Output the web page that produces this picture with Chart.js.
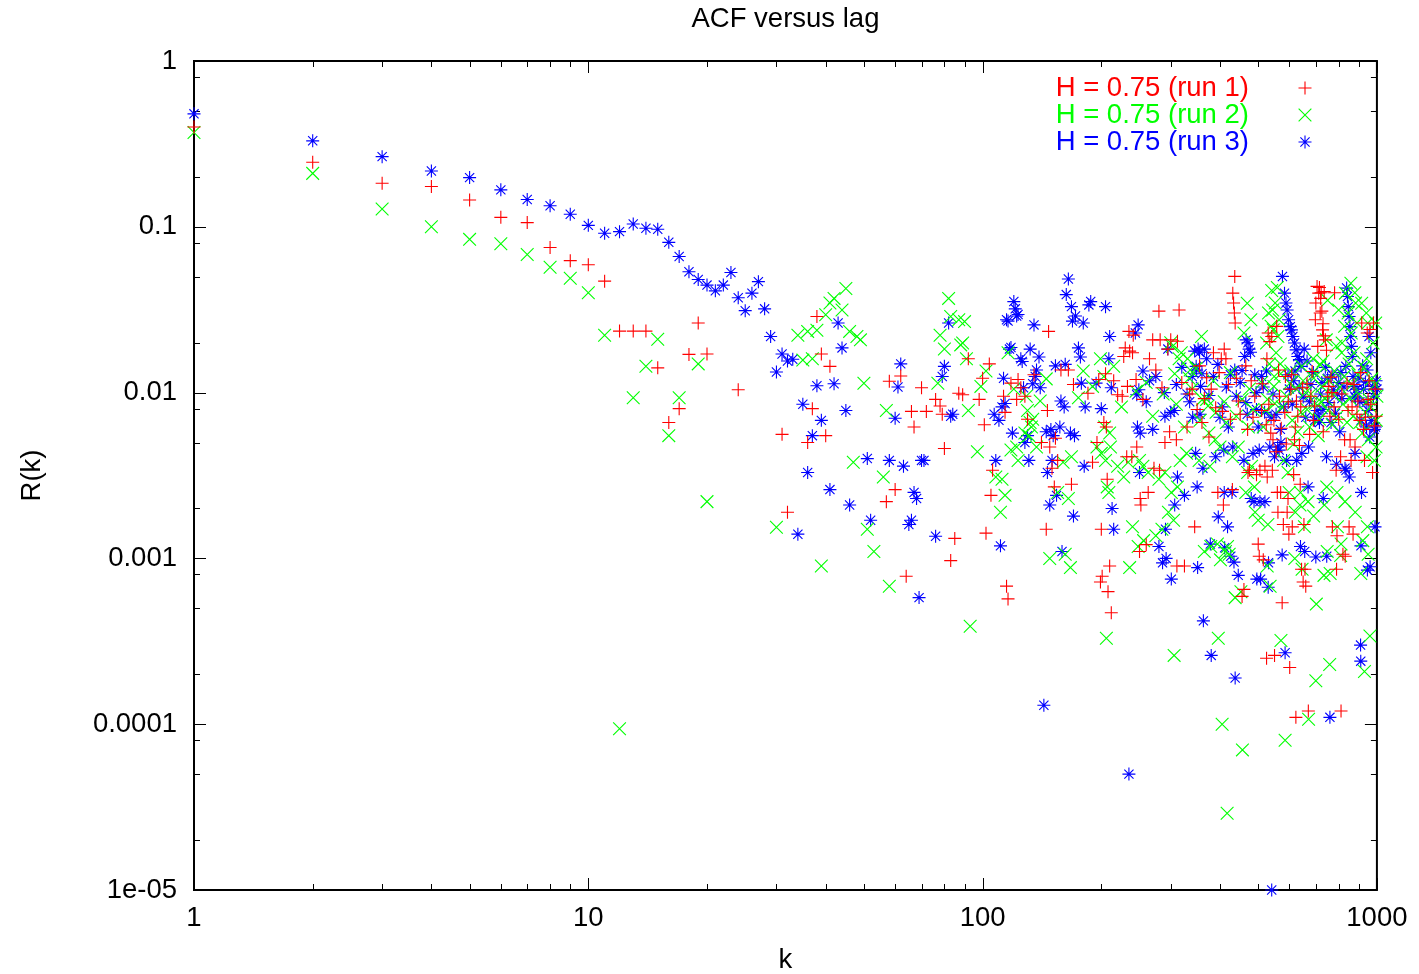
<!DOCTYPE html>
<html><head><meta charset="utf-8">
<script src="https://cdn.jsdelivr.net/npm/chart.js@4.4.1/dist/chart.umd.min.js"></script>
<style>html,body{margin:0;padding:0;background:#fff;}canvas{display:block;}</style>
</head><body>
<canvas id="c" width="1419" height="974"></canvas>
<script>
// ---- data: [lag k, R(k)] ----
const run1 = [[1,0.40],[2,0.245],[3,0.183],[4,0.175],[5,0.145],[6,0.114],[7,0.106],[8,0.075],[9,0.0625],[10,0.059],[11,0.047],[12,0.0235],[13,0.0235],[14,0.0235],[15,0.0141],[16,0.0066],[17,0.008],[18,0.017],[19,0.0263],[20,0.0171],[24,0.0104],[31,0.0056],[32,0.0019],[36,0.005],[37,0.008],[38,0.0288],[39,0.0171],[40,0.0055],[41,0.0144],[57,0.0022],[58,0.0117],[60,0.0026],[62,0.0126],[64,0.00078],[66,0.0077],[67,0.0062],[70,0.0107],[72,0.0077],[76,0.0091],[78,0.0083],[79,0.0074],[80,0.0046],[83,0.00097],[85,0.00132],[87,0.0099],[89,0.0097],[92,0.016],[98,0.0091],[100,0.0122],[101,0.0064],[102,0.00142],[104,0.0149],[105,0.0024],[106,0.0034],[113,0.0095],[114,0.0076],[115,0.00068],[116,0.00057],[118,0.0114],[122,0.0091],[123,0.012],[125,0.0107],[128,0.0095],[130,0.0069],[135,0.0128],[141,0.005],[145,0.0015],[146,0.0078],[147,0.0234],[148,0.0047],[150,0.0035],[152,0.0027],[153,0.0053],[155,0.0039],[158,0.0137],[165,0.0137],[168,0.0028],[170,0.0112],[185,0.0099],[190,0.0038],[195,0.005],[197,0.012],[199,0.00072],[200,0.0015],[201,0.00078],[203,0.0066],[205,0.013],[206,0.0062],[207,0.003],[208,0.00063],[210,0.0009],[212,0.00047],[215,0.0118],[220,0.0097],[226,0.0095],[228,0.0165],[230,0.0186],[232,0.0041],[233,0.0109],[235,0.0234],[236,0.0178],[239,0.0041],[240,0.0174],[241,0.0222],[245,0.012],[246,0.0047],[250,0.0011],[251,0.0023],[252,0.0021],[255,0.0091],[260,0.00121],[263,0.0025],[265,0.016],[270,0.0208],[272,0.0035],[275,0.0137],[280,0.031],[281,0.0034],[282,0.0208],[285,0.0107],[290,0.005],[295,0.0183],[298,0.0058],[300,0.0208],[310,0.0052],[311,0.0009],[312,0.0204],[315,0.0315],[320,0.0115],[325,0.0009],[335,0.0098],[345,0.00155],[350,0.0079],[360,0.0066],[370,0.0123],[380,0.0105],[385,0.0174],[390,0.0081],[395,0.0025],[403,0.016],[406,0.0077],[408,0.0021],[410,0.0183],[414,0.016],[420,0.0112],[430,0.0026],[431,0.0398],[433,0.0347],[435,0.0302],[436,0.0502],[437,0.0263],[445,0.0089],[455,0.00059],[460,0.00065],[470,0.006],[471,0.0033],[475,0.0034],[480,0.0118],[490,0.0095],[495,0.0032],[500,0.00122],[503,0.00103],[505,0.0034],[510,0.0078],[515,0.00098],[520,0.0036],[524,0.0064],[525,0.00025],[526,0.016],[527,0.0031],[530,0.0229],[535,0.0203],[538,0.0057],[541,0.0218],[543,0.0034],[545,0.0052],[550,0.00026],[555,0.0044],[557,0.0251],[559,0.0025],[561,0.0019],[563,0.0137],[570,0.0025],[575,0.00054],[579,0.0016],[584,0.0076],[586,0.0125],[589,0.0049],[592,0.0019],[595,0.0023],[598,0.0014],[601,0.00022],[605,0.0105],[610,0.00155],[615,0.0032],[618,0.0052],[621,0.0062],[623,0.00011],[625,0.0089],[636,0.0048],[639,0.0028],[641,0.0082],[644,0.00086],[650,0.00072],[653,0.0016],[657,0.00086],[660,0.00068],[665,0.0113],[670,0.00012],[680,0.0095],[690,0.0068],[698,0.0275],[700,0.0347],[705,0.0437],[708,0.019],[712,0.0398],[715,0.043],[718,0.0302],[720,0.037],[722,0.04],[725,0.031],[728,0.0239],[730,0.026],[731,0.0058],[732,0.022],[735,0.0407],[740,0.0208],[745,0.018],[755,0.0109],[760,0.0072],[769,0.01],[771,0.00155],[779,0.0082],[781,0.04],[788,0.0034],[790,0.00086],[792,0.00137],[809,0.0041],[811,0.00012],[820,0.00106],[828,0.0052],[831,0.00103],[840,0.0114],[850,0.00155],[855,0.0052],[860,0.0039],[865,0.0082],[870,0.0014],[880,0.0047],[890,0.0074],[905,0.0068],[915,0.0263],[925,0.006],[930,0.0039],[945,0.0229],[950,0.0091],[960,0.024],[975,0.0033],[980,0.0263],[985,0.0063],[990,0.0105],
  [330,0.0062],[340,0.0105],[355,0.0145],[365,0.0092],[375,0.0054],[398,0.0132],[425,0.0069],[440,0.0122],[450,0.0074],[465,0.0145],[485,0.0071],[512,0.0113],[532,0.0085],[548,0.0068],[566,0.0095],[572,0.0061],[596,0.0088],[608,0.0128],[630,0.0072],[648,0.0107],[675,0.0056],[685,0.0134],[695,0.0083],[750,0.0095],[765,0.0124],[800,0.0069],[815,0.0098],[845,0.0078],[875,0.0112],[895,0.0089],[910,0.0132],[935,0.0071],[955,0.0118],[965,0.0085],[995,0.0072]];

const run2 = [[1,0.37],[2,0.21],[3,0.128],[4,0.1],[5,0.084],[6,0.079],[7,0.068],[8,0.057],[9,0.049],[10,0.04],[11,0.0222],[12,0.000094],[13,0.0093],[14,0.0144],[15,0.021],[16,0.0055],[17,0.0093],[19,0.0149],[20,0.0022],[30,0.00154],[34,0.0222],[35,0.0157],[36,0.0234],[37,0.016],[38,0.0238],[39,0.0009],[40,0.0295],[41,0.0347],[42,0.037],[44,0.0315],[45,0.0425],[46,0.0234],[47,0.0038],[48,0.0218],[49,0.0208],[50,0.0114],[51,0.0015],[53,0.0011],[56,0.0031],[57,0.0078],[58,0.00068],[77,0.0114],[78,0.0222],[80,0.0183],[82,0.037],[83,0.0288],[87,0.0275],[88,0.0194],[89,0.0199],[90,0.0268],[91,0.016],[92,0.0078],[93,0.00039],[97,0.0044],[99,0.0109],[102,0.0135],[108,0.0031],[111,0.0019],[112,0.003],[114,0.0024],[116,0.0174],[118,0.0045],[120,0.0105],[122,0.0047],[123,0.0039],[128,0.0057],[129,0.0095],[130,0.0078],[131,0.0055],[132,0.0066],[133,0.0062],[134,0.0069],[137,0.0047],[140,0.0089],[145,0.0121],[148,0.001],[155,0.0025],[160,0.0038],[162,0.00106],[165,0.0023],[167,0.00088],[168,0.0041],[175,0.0093],[180,0.0135],[190,0.0109],[195,0.0047],[199,0.016],[200,0.0043],[203,0.0125],[204,0.0062],[205,0.0039],[206,0.00033],[207,0.0027],[209,0.0025],[210,0.0057],[211,0.0047],[215,0.0144],[220,0.0036],[225,0.0082],[228,0.0031],[234,0.0038],[236,0.00088],[240,0.00155],[245,0.0102],[248,0.00118],[250,0.0039],[255,0.0036],[256,0.00128],[260,0.0115],[263,0.0033],[270,0.0072],[275,0.00137],[280,0.003],[285,0.0015],[287,0.0098],[290,0.0033],[296,0.0019],[300,0.02],[301,0.0025],[303,0.019],[305,0.0017],[306,0.00026],[307,0.013],[312,0.0027],[315,0.016],[317,0.0039],[319,0.0174],[329,0.0043],[331,0.016],[334,0.0122],[336,0.0137],[348,0.014],[354,0.0039],[356,0.0068],[359,0.0218],[361,0.0091],[365,0.0011],[370,0.0091],[373,0.0083],[375,0.0057],[377,0.0036],[379,0.00118],[389,0.0052],[391,0.0076],[394,0.00122],[396,0.00033],[400,0.0047],[401,0.00098],[405,0.0001],[413,0.0011],[415,0.0066],[417,0.000029],[418,0.00118],[422,0.00106],[430,0.0041],[437,0.00058],[445,0.0047],[452,0.00063],[455,0.0091],[456,0.00007],[460,0.0229],[465,0.0025],[469,0.0346],[470,0.0033],[472,0.0062],[479,0.0275],[481,0.0036],[489,0.0027],[491,0.0019],[500,0.0017],[523,0.0078],[525,0.0199],[527,0.0009],[528,0.0091],[529,0.0016],[531,0.0302],[534,0.0149],[536,0.00068],[539,0.0251],[541,0.0413],[544,0.0315],[546,0.0239],[548,0.0109],[549,0.0125],[551,0.0086],[552,0.0347],[555,0.0174],[559,0.043],[561,0.0218],[565,0.0275],[569,0.0149],[570,0.013],[571,0.00032],[580,0.0039],[585,0.00008],[595,0.0033],[599,0.0025],[601,0.0114],[610,0.0068],[619,0.001],[621,0.0019],[625,0.0105],[630,0.0058],[638,0.0021],[640,0.0025],[642,0.0076],[645,0.0144],[646,0.00086],[655,0.00155],[660,0.01],[669,0.0022],[671,0.000107],[675,0.0062],[685,0.0125],[689,0.016],[691,0.0018],[699,0.0086],[700,0.000183],[702,0.00053],[710,0.0055],[719,0.0147],[721,0.0088],[725,0.0109],[734,0.00079],[736,0.0021],[744,0.0208],[746,0.0027],[748,0.0011],[750,0.036],[751,0.0078],[759,0.000229],[761,0.00081],[770,0.0064],[788,0.0191],[790,0.0071],[792,0.0025],[794,0.00155],[800,0.0315],[809,0.00104],[811,0.00122],[814,0.0174],[816,0.0199],[820,0.0085],[828,0.0251],[830,0.0022],[832,0.0398],[845,0.0302],[850,0.0149],[859,0.0457],[861,0.0229],[870,0.0072],[875,0.0174],[879,0.04],[881,0.0019],[883,0.0347],[890,0.0263],[900,0.0098],[910,0.00081],[915,0.0346],[919,0.0057],[921,0.00128],[930,0.000208],[935,0.0076],[940,0.0302],[942,0.016],[944,0.0041],[946,0.00155],[948,0.0263],[950,0.00106],[951,0.0052],[955,0.0091],[960,0.00034],[970,0.0121],[978,0.0199],[985,0.0039],[988,0.0112],[993,0.0263],[995,0.0047],[997,0.0068],
  [310,0.0085],[325,0.0062],[340,0.0105],[385,0.0118],[410,0.0088],[425,0.0132],[440,0.0072],[475,0.0105],[485,0.0079],[510,0.0115],[515,0.0062],[575,0.0082],[590,0.0095],[605,0.0135],[615,0.0049],[650,0.0118],[665,0.0079],[680,0.0098],[705,0.0128],[715,0.0069],[730,0.0155],[740,0.0092],[755,0.0118],[775,0.0098],[780,0.0135],[805,0.0108],[825,0.0125],[840,0.0066],[855,0.0092],[865,0.0112],[895,0.0128],[905,0.0066],[925,0.0142],[965,0.0082],[1000,0.0095]];

const run3 = [[1,0.48],[2,0.33],[3,0.265],[4,0.217],[5,0.198],[6,0.167],[7,0.146],[8,0.134],[9,0.119],[10,0.102],[11,0.0915],[12,0.0935],[13,0.104],[14,0.098],[15,0.0967],[16,0.0806],[17,0.0662],[18,0.0536],[19,0.0481],[20,0.0445],[21,0.0411],[22,0.0445],[23,0.053],[24,0.0373],[25,0.0312],[26,0.0398],[27,0.0467],[28,0.032],[29,0.0218],[30,0.0133],[31,0.0171],[32,0.0155],[33,0.0159],[34,0.0014],[35,0.0085],[36,0.0033],[37,0.0055],[38,0.011],[39,0.0068],[41,0.0026],[42,0.0113],[43,0.0263],[44,0.0186],[45,0.0078],[46,0.0021],[51,0.004],[52,0.0017],[58,0.0039],[60,0.007],[61,0.0108],[62,0.0149],[63,0.0036],[65,0.0016],[66,0.0017],[67,0.0025],[68,0.0023],[69,0.00058],[70,0.0039],[71,0.0039],[76,0.00136],[79,0.0125],[80,0.0144],[82,0.0263],[83,0.0072],[84,0.0074],[107,0.0074],[108,0.0039],[110,0.0068],[111,0.00119],[112,0.0082],[113,0.0122],[114,0.0086],[115,0.0275],[116,0.027],[117,0.0183],[118,0.0187],[119,0.0057],[120,0.0354],[121,0.032],[122,0.029],[123,0.0296],[125,0.016],[126,0.0154],[127,0.0107],[128,0.005],[130,0.0055],[131,0.0039],[132,0.0183],[134,0.0113],[135,0.0256],[136,0.0125],[137,0.0137],[139,0.0164],[140,0.0107],[143,0.00013],[145,0.0058],[146,0.0033],[148,0.0021],[149,0.006],[150,0.0039],[151,0.0055],[153,0.0145],[154,0.0024],[157,0.0062],[158,0.0089],[159,0.0011],[161,0.0082],[162,0.0148],[163,0.039],[165,0.0484],[167,0.0057],[168,0.033],[169,0.027],[170,0.0018],[171,0.0055],[172,0.029],[175,0.0186],[177,0.0164],[178,0.0114],[180,0.0263],[181,0.0036],[182,0.0082],[186,0.0338],[188,0.0354],[194,0.0114],[200,0.008],[205,0.033],[209,0.016],[210,0.0218],[212,0.0107],[213,0.002],[215,0.0015],[235,0.00005],[244,0.0229],[246,0.0097],[247,0.0062],[248,0.0256],[249,0.0104],[250,0.0033],[251,0.0057],[255,0.0135],[265,0.0118],[270,0.006],[280,0.00118],[286,0.00094],[289,0.01],[290,0.0072],[291,0.0015],[292,0.001],[295,0.0183],[300,0.0076],[301,0.00075],[306,0.0078],[307,0.0021],[310,0.0112],[312,0.0031],[325,0.0024],[330,0.0098],[340,0.0125],[341,0.0071],[345,0.0178],[347,0.0043],[348,0.0144],[349,0.0137],[350,0.0027],[351,0.00088],[352,0.0183],[355,0.0175],[356,0.0074],[357,0.0109],[360,0.013],[362,0.0035],[363,0.00042],[365,0.0183],[370,0.016],[378,0.00122],[380,0.00026],[385,0.0125],[390,0.0041],[396,0.00178],[400,0.0071],[409,0.0045],[410,0.0025],[411,0.00116],[415,0.0108],[418,0.00155],[420,0.0062],[426,0.00103],[429,0.0025],[431,0.0047],[434,0.00095],[436,0.0137],[437,0.00019],[445,0.00079],[450,0.0115],[460,0.0039],[462,0.0165],[465,0.0087],[466,0.0208],[469,0.0074],[471,0.02],[474,0.0183],[478,0.0175],[480,0.0023],[485,0.0043],[488,0.0022],[494,0.01],[495,0.0079],[496,0.00075],[503,0.0045],[505,0.0022],[507,0.00075],[510,0.0125],[519,0.0076],[520,0.0022],[530,0.00067],[531,0.00094],[535,0.0047],[539,0.0071],[541,0.00001],[545,0.0098],[550,0.0041],[555,0.0074],[560,0.0047],[565,0.0045],[569,0.006],[571,0.005],[575,0.00105],[576,0.0502],[583,0.0398],[585,0.00027],[588,0.0347],[590,0.0039],[592,0.0315],[597,0.0275],[600,0.0105],[603,0.025],[607,0.0239],[612,0.0218],[615,0.0118],[618,0.0199],[624,0.0181],[626,0.0039],[630,0.0165],[636,0.0158],[640,0.00118],[642,0.0144],[645,0.0043],[650,0.0094],[654,0.0183],[656,0.0011],[660,0.0071],[669,0.0027],[671,0.0047],[680,0.0112],[695,0.0068],[700,0.00102],[705,0.0078],[710,0.0072],[715,0.0066],[720,0.0098],[730,0.0079],[731,0.0023],[745,0.0041],[746,0.00103],[750,0.0122],[760,0.00011],[765,0.0066],[775,0.0104],[790,0.0037],[800,0.0115],[805,0.0058],[815,0.0092],[830,0.0035],[834,0.0144],[835,0.0034],[838,0.0427],[842,0.038],[846,0.033],[850,0.0288],[851,0.0031],[854,0.025],[858,0.0218],[862,0.019],[866,0.0165],[870,0.0125],[874,0.0109],[878,0.0095],[880,0.0043],[882,0.0093],[900,0.0122],[909,0.0003],[910,0.00024],[911,0.00119],[912,0.0068],[914,0.0025],[925,0.0105],[939,0.0087],[941,0.0062],[944,0.0137],[946,0.00085],[955,0.0218],[959,0.0054],[961,0.00089],[965,0.0174],[968,0.0068],[975,0.0109],[985,0.006],[989,0.00155],[991,0.0062],[995,0.0118],
  [260,0.0088],[275,0.0125],[320,0.0142],[335,0.0088],[375,0.0096],[395,0.0148],[405,0.0082],[425,0.0128],[440,0.0095],[455,0.0136],[490,0.0128],[500,0.0062],[515,0.0108],[525,0.0135],[580,0.0082],[595,0.0128],[610,0.0085],[620,0.0135],[635,0.0108],[665,0.0155],[675,0.0088],[690,0.0132],[725,0.0115],[740,0.0142],[755,0.0087],[770,0.0128],[785,0.0075],[795,0.0098],[810,0.0132],[825,0.0108],[890,0.0105],[905,0.0088],[920,0.0145],[935,0.0116],[950,0.0078],[980,0.0095],[1000,0.0105]];

const seriesLabels = ['H = 0.75 (run 1)', 'H = 0.75 (run 2)', 'H = 0.75 (run 3)'];
const xTickValues = [1, 10, 100, 1000];
const xTickLabels = ['1', '10', '100', '1000'];
const yTickValues = [1, 0.1, 0.01, 0.001, 0.0001, 0.00001];
const yTickLabels = ['1', '0.1', '0.01', '0.001', '0.0001', '1e-05'];
const chartTitle = 'ACF versus lag';
const xTitle = 'k';
const yTitle = 'R(k)';

// ---- styling ----
const FONT = '"Liberation Sans", Arial, Helvetica, sans-serif';
const FS = 27.5;
const colors = ['#ff0000', '#00ff00', '#0000ff'];
const styles = ['cross', 'crossRot', 'star'];
const radii = [6.5, 9, 6.5];

function toPoints(arr) { return arr.map(p => ({x: p[0], y: p[1]})); }

const datasets = [run1, run2, run3].map((arr, i) => ({
  label: seriesLabels[i],
  data: toPoints(arr),
  pointStyle: styles[i],
  pointRadius: radii[i],
  pointHoverRadius: radii[i],
  borderColor: colors[i],
  backgroundColor: colors[i],
  pointBorderWidth: 1.1,
  showLine: false,
  clip: false
}));

function drawMarker(ctx, style, x, y, r) {
  ctx.beginPath();
  if (style === 'cross' || style === 'star') {
    ctx.moveTo(x - r, y); ctx.lineTo(x + r, y);
    ctx.moveTo(x, y - r); ctx.lineTo(x, y + r);
  }
  if (style === 'crossRot' || style === 'star') {
    const d = r * Math.SQRT1_2;
    ctx.moveTo(x - d, y - d); ctx.lineTo(x + d, y + d);
    ctx.moveTo(x - d, y + d); ctx.lineTo(x + d, y - d);
  }
  ctx.stroke();
}

const framePlugin = {
  id: 'frame',
  beforeDatasetsDraw(chart) {
    const {ctx, chartArea: a, scales} = chart;
    const xs = scales.x, ys = scales.y;
    ctx.save();
    ctx.strokeStyle = '#000';
    ctx.lineWidth = 1;
    const MAJ = 12, MIN = 6;
    ctx.beginPath();
    for (let e = 0; e <= 3; e++) {
      const base = Math.pow(10, e);
      const px = Math.round(xs.getPixelForValue(base)) + 0.5;
      ctx.moveTo(px, a.bottom); ctx.lineTo(px, a.bottom - MAJ);
      ctx.moveTo(px, a.top); ctx.lineTo(px, a.top + MAJ);
      if (e < 3) {
        for (let m = 2; m <= 9; m++) {
          const p = Math.round(xs.getPixelForValue(m * base)) + 0.5;
          ctx.moveTo(p, a.bottom); ctx.lineTo(p, a.bottom - MIN);
          ctx.moveTo(p, a.top); ctx.lineTo(p, a.top + MIN);
        }
      }
    }
    for (let e = -5; e <= 0; e++) {
      const base = Math.pow(10, e);
      const py = Math.round(ys.getPixelForValue(base)) + 0.5;
      ctx.moveTo(a.left, py); ctx.lineTo(a.left + MAJ, py);
      ctx.moveTo(a.right, py); ctx.lineTo(a.right - MAJ, py);
      if (e < 0) {
        for (const m of [2, 5, 8]) {
          const p = Math.round(ys.getPixelForValue(m * base)) + 0.5;
          ctx.moveTo(a.left, p); ctx.lineTo(a.left + MIN, p);
          ctx.moveTo(a.right, p); ctx.lineTo(a.right - MIN, p);
        }
      }
    }
    ctx.stroke();
    ctx.lineWidth = 2;
    ctx.strokeRect(a.left, a.top, a.right - a.left, a.bottom - a.top);
    ctx.restore();
  },
  afterDatasetsDraw(chart) {
    const {ctx} = chart;
    ctx.save();
    ctx.font = FS + 'px ' + FONT;
    ctx.textAlign = 'right';
    ctx.textBaseline = 'middle';
    ctx.lineWidth = 1.1;
    const rowY = [88, 115, 142];
    for (let i = 0; i < 3; i++) {
      ctx.fillStyle = colors[i];
      ctx.fillText(seriesLabels[i], 1249, rowY[i]);
      ctx.strokeStyle = colors[i];
      drawMarker(ctx, styles[i], 1305, rowY[i], radii[i]);
    }
    ctx.restore();
  }
};

new Chart(document.getElementById('c'), {
  type: 'scatter',
  data: {datasets},
  plugins: [framePlugin],
  options: {
    responsive: false,
    animation: false,
    devicePixelRatio: 1,
    layout: {padding: {left: 0, right: 40, top: 0, bottom: 0}},
    plugins: {
      legend: {display: false},
      tooltip: {enabled: false},
      title: {
        display: true,
        fullSize: false,
        text: chartTitle,
        color: '#000',
        font: {family: FONT, size: FS, weight: 'normal', lineHeight: 1.2},
        padding: {top: 2.5, bottom: 25.5}
      }
    },
    scales: {
      x: {
        type: 'logarithmic',
        min: 1, max: 1000,
        grid: {display: false, drawTicks: false},
        border: {display: false},
        afterBuildTicks: s => { s.ticks = xTickValues.map(v => ({value: v})); },
        afterFit: s => { s.height = 84; },
        ticks: {
          autoSkip: false, maxRotation: 0,
          color: '#000', padding: 11.5,
          font: {family: FONT, size: FS, lineHeight: 1.2},
          callback: (v, i) => xTickLabels[i]
        },
        title: {display: true, text: xTitle, color: '#000', padding: {top: 0, bottom: 0},
          font: {family: FONT, size: FS, lineHeight: 1}}
      },
      y: {
        type: 'logarithmic',
        min: 0.00001, max: 1,
        grid: {display: false, drawTicks: false},
        border: {display: false},
        afterBuildTicks: s => { s.ticks = yTickValues.slice().reverse().map(v => ({value: v})); },
        afterFit: s => { s.width = 194; },
        ticks: {
          autoSkip: false,
          color: '#000', padding: 17,
          font: {family: FONT, size: FS, lineHeight: 1.2},
          callback: (v) => { const i = yTickValues.findIndex(t => Math.abs(Math.log10(t) - Math.log10(v)) < 1e-6); return i >= 0 ? yTickLabels[i] : ''; }
        },
        title: {display: true, text: yTitle, color: '#000', padding: {top: 19, bottom: 0},
          font: {family: FONT, size: FS, lineHeight: 1}}
      }
    }
  }
});
</script>
</body></html>
